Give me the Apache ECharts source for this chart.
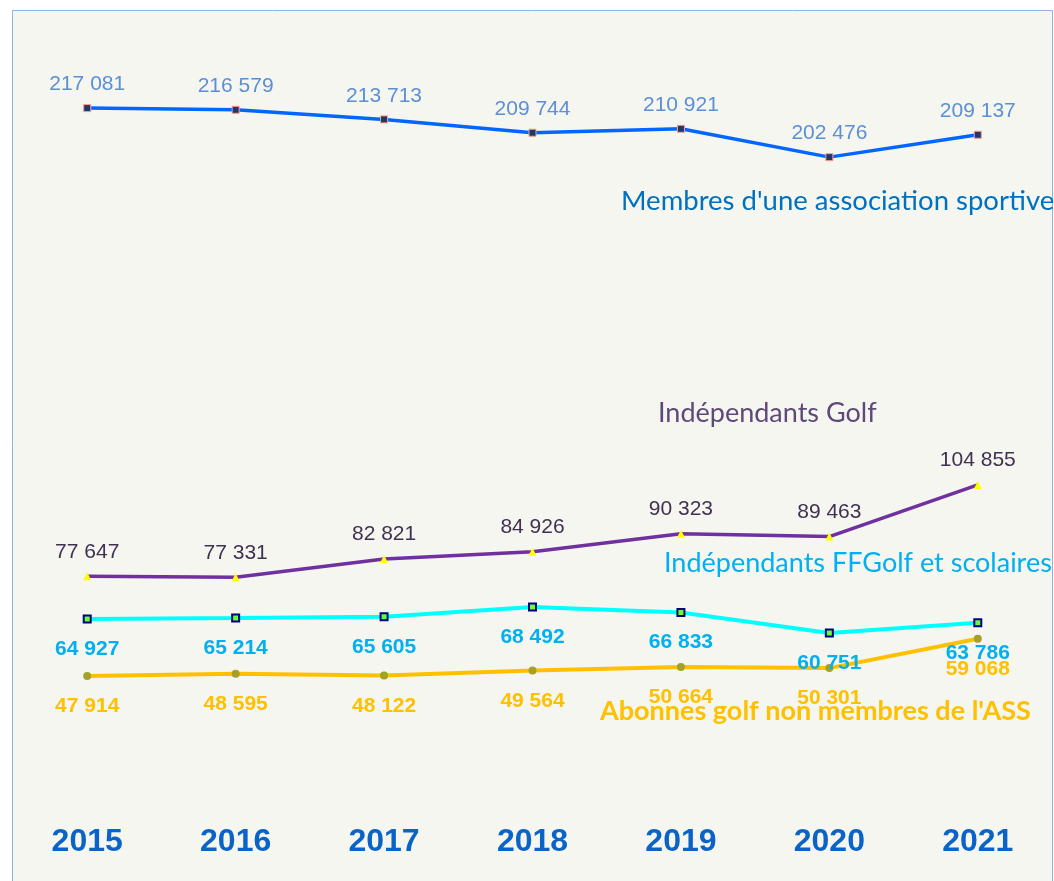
<!DOCTYPE html>
<html>
<head>
<meta charset="utf-8">
<script src="https://cdn.jsdelivr.net/npm/echarts@6/dist/echarts.min.js"></script>
<style>
html,body{margin:0;padding:0;background:#ffffff;}
#chart{width:1054px;height:881px;}
</style>
</head>
<body>
<div id="chart"></div>
<script>
const years = ['2015','2016','2017','2018','2019','2020','2021'];
const membresAS = [217081, 216579, 213713, 209744, 210921, 202476, 209137];
const independantsGolf = [77647, 77331, 82821, 84926, 90323, 89463, 104855];
const independantsFFGolf = [64927, 65214, 65605, 68492, 66833, 60751, 63786];
const abonnesGolf = [47914, 48595, 48122, 49564, 50664, 50301, 59068];
const seriesNames = [
  "Membres d'une association sportive",
  "Indépendants Golf",
  "Indépendants FFGolf et scolaires",
  "Abonnes golf non membres de l'ASS"
];

function fmt(v){ return String(v).replace(/\B(?=(\d{3})+(?!\d))/g, ' '); }

const chart = echarts.init(document.getElementById('chart'));
const option = {
  animation: false,
  backgroundColor: '#ffffff',
  grid: { left: 13, width: 1039, top: 11, bottom: 44 },
  xAxis: {
    type: 'category',
    data: years,
    boundaryGap: true,
    axisLine: { show: false },
    axisTick: { show: false },
    splitLine: { show: false },
    axisLabel: {
      fontFamily: 'Liberation Sans',
      fontWeight: 'bold',
      fontSize: 32,
      color: '#0A64C8',
      verticalAlign: 'middle',
      margin: 5
    }
  },
  yAxis: {
    type: 'value', min: 0, max: 246000, show: false,
    splitLine: { show: false }
  },
  graphic: [
    {
      type: 'rect', z: -10, silent: true,
      shape: { x: 12.5, y: 10.5, width: 1040, height: 880 },
      style: { fill: '#F5F6EF', stroke: '#8EB4E3', lineWidth: 1 }
    },
    {
      type: 'text', left: 621, top: 187, z: 10,
      style: { text: seriesNames[0], fill: '#0070C0', font: '27.5px Lato' }
    },
    {
      type: 'text', left: 658, top: 400, z: 10,
      style: { text: seriesNames[1], fill: '#5F497A', font: '27px Lato' }
    },
    {
      type: 'text', left: 664, top: 550, z: 10,
      style: { text: seriesNames[2], fill: '#00B0F0', font: '27px Lato' }
    },
    {
      type: 'text', left: 600, top: 698, z: 10,
      style: { text: seriesNames[3], fill: '#FFC000', font: 'bold 27px Lato' }
    }
  ],
  series: [
    {
      name: seriesNames[0], type: 'line', data: membresAS,
      symbol: 'rect', symbolSize: 7,
      lineStyle: { color: '#0066FF', width: 3.5 },
      itemStyle: { color: '#1F3864', borderColor: '#FF9999', borderWidth: 1 },
      label: {
        show: true, position: 'top', distance: 9,
        formatter: p => fmt(p.value),
        fontFamily: 'Liberation Sans', fontSize: 21, color: '#5B8FD6'
      }
    },
    {
      name: seriesNames[1], type: 'line', data: independantsGolf,
      symbol: 'triangle', symbolSize: 8,
      lineStyle: { color: '#7030A0', width: 3.5 },
      itemStyle: { color: '#FFFF00', borderWidth: 0 },
      label: {
        show: true, position: 'top', distance: 10,
        formatter: p => fmt(p.value),
        fontFamily: 'Liberation Sans', fontSize: 21, color: '#403152'
      }
    },
    {
      name: seriesNames[2], type: 'line', data: independantsFFGolf,
      symbol: 'rect', symbolSize: 7,
      lineStyle: { color: '#00FFFF', width: 4 },
      itemStyle: { color: '#66FF33', borderColor: '#000080', borderWidth: 2 },
      label: {
        show: true, position: 'bottom', distance: 15,
        formatter: p => fmt(p.value),
        fontFamily: 'Liberation Sans', fontWeight: 'bold', fontSize: 21, color: '#00B0F0'
      }
    },
    {
      name: seriesNames[3], type: 'line', data: abonnesGolf,
      symbol: 'circle', symbolSize: 8,
      lineStyle: { color: '#FFC000', width: 4 },
      itemStyle: { color: '#A5A02A', borderWidth: 0 },
      label: {
        show: true, position: 'bottom', distance: 16,
        formatter: p => fmt(p.value),
        fontFamily: 'Liberation Sans', fontWeight: 'bold', fontSize: 21, color: '#FFC000'
      }
    }
  ]
};
chart.setOption(option);
</script>
</body>
</html>
